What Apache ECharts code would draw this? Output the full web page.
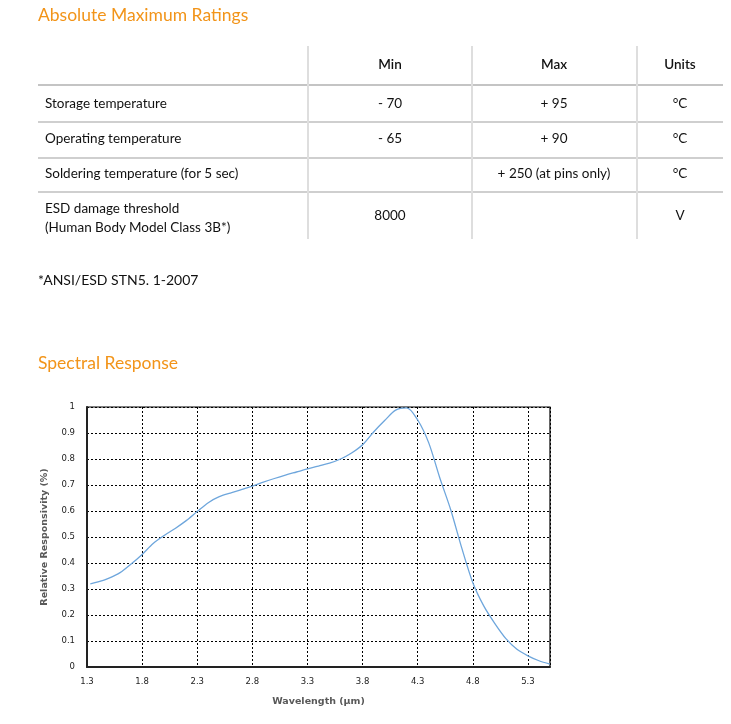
<!DOCTYPE html>
<html>
<head>
<meta charset="utf-8">
<script src="https://cdn.jsdelivr.net/npm/echarts@6/dist/echarts.min.js"></script>
<style>
  html, body { margin:0; padding:0; background:#fff; }
  #page { position:relative; width:731px; height:724px; overflow:hidden; font-family: Lato, "Open Sans", sans-serif; color:#111; }
  #chart { position:absolute; left:0; top:0; width:731px; height:724px; }
  .t { position:absolute; white-space:nowrap; line-height:1; }
  .h { color:#f29419; font-size:17.5px; }
  .cell { font-size:13.5px; }
  .hd { font-weight:600; }
  .hl { position:absolute; left:38px; width:685px; height:2px; background:#cfcfcf; }
  .vl { position:absolute; top:46px; height:193px; width:2px; background:#dedede; }
</style>
</head>
<body>
<div id="page">
  <div id="chart"></div>
  <div id="table"></div>
</div>
<script>
// ---- data ----
const tableHeaders = ["", "Min", "Max", "Units"];
const tableRows = [
  ["Storage temperature", "- 70", "+ 95", "°C"],
  ["Operating temperature", "- 65", "+ 90", "°C"],
  ["Soldering temperature (for 5 sec)", "", "+ 250 (at pins only)", "°C"],
  ["ESD damage threshold<br>(Human Body Model Class 3B*)", "8000", "", "V"]
];
const footnote = "*ANSI/ESD STN5. 1-2007";
const title1 = "Absolute Maximum Ratings";
const title2 = "Spectral Response";

const wavelength = [1.33,1.4,1.5,1.6,1.7,1.8,1.9,2.0,2.1,2.2,2.3,2.4,2.5,2.6,2.7,2.8,2.9,3.0,3.1,3.2,3.3,3.4,3.5,3.6,3.7,3.8,3.9,4.0,4.1,4.2,4.3,4.4,4.5,4.6,4.7,4.8,4.9,5.0,5.1,5.2,5.3,5.4,5.5];
const responsivity = [0.32,0.327,0.342,0.363,0.396,0.433,0.475,0.506,0.533,0.563,0.598,0.632,0.655,0.669,0.682,0.696,0.711,0.725,0.738,0.750,0.762,0.773,0.784,0.800,0.823,0.855,0.904,0.948,0.988,0.997,0.950,0.862,0.728,0.604,0.457,0.324,0.234,0.167,0.109,0.068,0.043,0.024,0.011];
const xAxisMin = 1.3, xAxisMax = 5.5, xStep = 0.5;
const yAxisMin = 0, yAxisMax = 1, yStep = 0.1;

// ---- table (HTML text) ----
const tb = document.getElementById('table');
function add(html, cls, style) {
  const d = document.createElement('div');
  d.className = cls; d.innerHTML = html; d.setAttribute('style', style);
  tb.appendChild(d);
}
add(title1, 't h', 'left:38px;top:6px;');
add(title2, 't h', 'left:38px;top:354px;');
add(footnote, 't cell', 'left:38px;top:273px;font-size:14px;');
[84, 121, 157, 191].forEach((y, i) => add('', 'hl', 'top:' + y + 'px;' + (i === 0 ? 'height:2px;background:#c4c4c4;' : '')));
[307, 471, 636].forEach(x => add('', 'vl', 'left:' + x + 'px;'));
const colCenters = [null, 390, 554, 680];
for (let c = 1; c < 4; c++) {
  add(tableHeaders[c], 't cell hd', 'left:' + (colCenters[c]-60) + 'px;width:120px;text-align:center;top:58px;');
}
const rowCenters = [104, 139, 174, 216];
tableRows.forEach((r, i) => {
  const yc = rowCenters[i];
  const two = r[0].indexOf('<br>') >= 0;
  add(r[0], 't cell', 'left:45px;top:' + (two ? yc - 17 : yc - 7) + 'px;' + (two ? 'line-height:19px;' : ''));
  for (let c = 1; c < 4; c++) {
    if (r[c]) add(r[c], 't cell', 'left:' + (colCenters[c]-80) + 'px;width:160px;text-align:center;top:' + (yc - 7) + 'px;');
  }
});

// ---- chart ----
const chart = echarts.init(document.getElementById('chart'), null, { renderer: 'canvas' });
const labelStyle = { fontFamily: 'DejaVu Sans', fontSize: 8.5, color: '#222' };
chart.setOption({
  animation: false,
  grid: { left: 87, right: 181, top: 407, bottom: 57, show: true, borderColor: '#000', borderWidth: 1.2, containLabel: false },
  xAxis: {
    type: 'value', min: xAxisMin, max: xAxisMax, interval: xStep,
    name: 'Wavelength (µm)', nameLocation: 'middle', nameGap: 30,
    nameTextStyle: { fontFamily: 'DejaVu Sans', fontSize: 9.5, fontWeight: 'bold', color: '#595959' },
    axisLine: { show: true, onZero: false, lineStyle: { color: '#222', width: 2 } },
    axisTick: { show: false },
    axisLabel: Object.assign({ margin: 10, showMaxLabel: false, formatter: v => (+v).toFixed(1) }, labelStyle),
    splitLine: { show: true, lineStyle: { color: '#000', type: [2, 2], width: 1 } }
  },
  yAxis: {
    type: 'value', min: yAxisMin, max: yAxisMax, interval: yStep,
    name: 'Relative Responsivity (%)', nameLocation: 'middle', nameGap: 37, nameRotate: 90,
    nameTextStyle: { fontFamily: 'DejaVu Sans', fontSize: 9.5, fontWeight: 'bold', color: '#595959' },
    axisLine: { show: true, lineStyle: { color: '#222', width: 2 } },
    axisTick: { show: false },
    axisLabel: Object.assign({ margin: 12, formatter: v => String(+(+v).toFixed(1)) }, labelStyle),
    splitLine: { show: true, lineStyle: { color: '#000', type: [2, 2], width: 1 } }
  },
  series: [{
    type: 'line',
    data: wavelength.map((w, i) => [w, responsivity[i]]),
    smooth: 0.3,
    showSymbol: false,
    lineStyle: { color: '#6ea6dc', width: 1.3 }
  }]
});
</script>
</body>
</html>
